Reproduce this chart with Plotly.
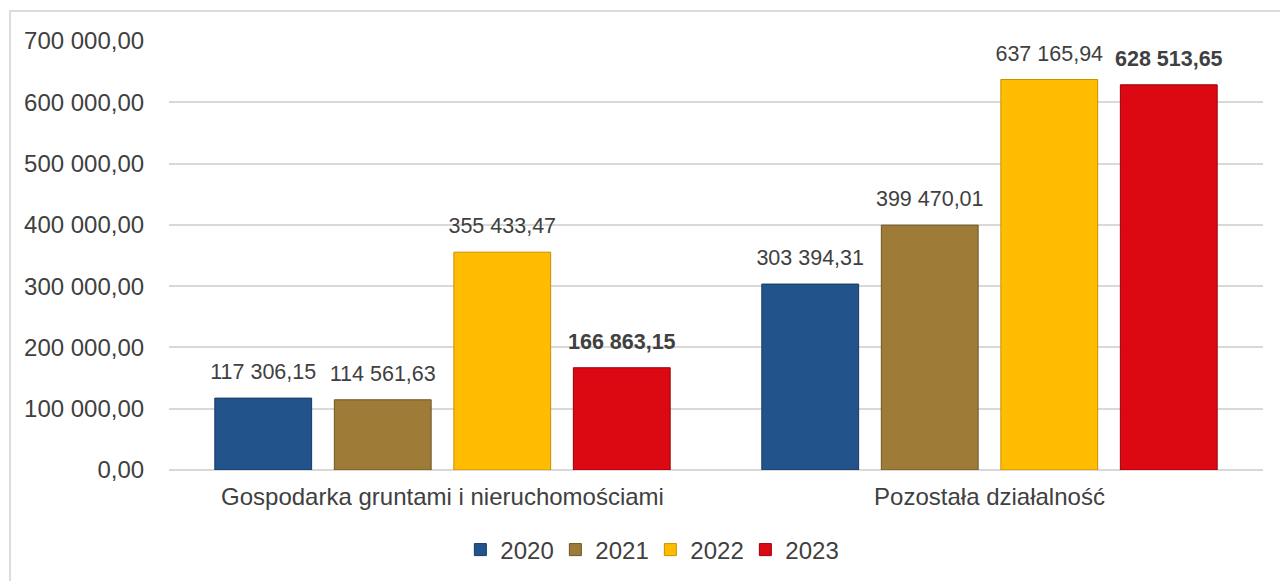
import plotly.graph_objects as go

categories = ["Gospodarka gruntami i nieruchomościami", "Pozostała działalność"]
years = ["2020", "2021", "2022", "2023"]
values_2020 = [117306.15, 303394.31]
values_2021 = [114561.63, 399470.01]
values_2022 = [355433.47, 637165.94]
values_2023 = [166863.15, 628513.65]
tick_values = [0, 100000, 200000, 300000, 400000, 500000, 600000, 700000]

series = [values_2020, values_2021, values_2022, values_2023]
fill_colors = ["#22538a", "#9e7c38", "#ffbc00", "#dc0812"]
edge_colors = ["#163a62", "#6e5424", "#c99000", "#9a0008"]
bold = [False, False, False, True]

FONT = "Liberation Sans, Arial, sans-serif"
TXT = "#404040"
BARGAP = 0.126

fig = go.Figure()
for name, vals, fc, ec in zip(years, series, fill_colors, edge_colors):
    fig.add_trace(go.Bar(
        name=name, x=categories, y=vals, offsetgroup=name,
        marker=dict(color=fc, line=dict(color=ec, width=1)),
        hoverinfo="x+y",
    ))

# data labels: grouped scatter text aligned with the bars
for name, vals, b in zip(years, series, bold):
    tmpl = "%{y:,.2f}"
    if b:
        tmpl = "<b>" + tmpl + "</b>"
    fig.add_trace(go.Scatter(
        x=categories, y=vals, mode="markers+text", offsetgroup=name,
        texttemplate=tmpl, textposition="top center",
        textfont=dict(family=FONT, size=21.5, color=TXT),
        marker=dict(size=20, color="rgba(0,0,0,0)"),
        showlegend=False, cliponaxis=False, hoverinfo="skip",
    ))

fig.update_layout(
    width=1288, height=581,
    margin=dict(l=161, r=33, t=33, b=119),
    paper_bgcolor="white", plot_bgcolor="white",
    barmode="group", bargap=BARGAP, bargroupgap=0.19,
    scattermode="group", scattergap=BARGAP,
    separators=", ",
    font=dict(family=FONT, size=24, color=TXT),
    showlegend=True,
    legend=dict(orientation="h", x=0.44, xanchor="center", y=-0.1865, yanchor="middle",
                font=dict(family=FONT, size=24, color=TXT), itemwidth=30,
                entrywidth=50, entrywidthmode="pixels",
                traceorder="normal", bgcolor="rgba(0,0,0,0)"),
    shapes=[dict(type="rect", xref="paper", yref="paper",
                 x0=-0.1453, x1=1.1, y0=-0.4, y1=1.0699,
                 line=dict(color="#dcdcdc", width=2), fillcolor="rgba(0,0,0,0)",
                 layer="below")],
)
fig.update_yaxes(range=[0, 700000], tickvals=tick_values, tickformat=",.2f",
                 showgrid=True, gridcolor="#d9d9d9", gridwidth=2,
                 zeroline=True, zerolinecolor="#d9d9d9", zerolinewidth=2,
                 ticks="outside", ticklen=19, tickcolor="rgba(0,0,0,0)",
                 tickfont=dict(family=FONT, size=24, color=TXT), showline=False)
fig.update_xaxes(showgrid=False, ticks="outside", ticklen=5, tickcolor="rgba(0,0,0,0)",
                 tickfont=dict(family=FONT, size=24, color=TXT), showline=False)

fig.write_html("out.html")
